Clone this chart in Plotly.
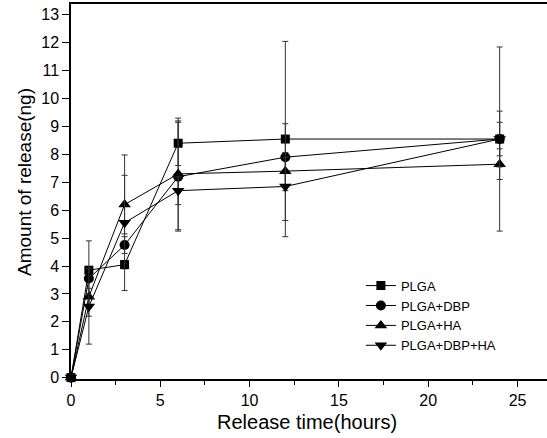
import plotly.graph_objects as go

# Release time points (hours)
time_h = [0, 1, 3, 6, 12, 24]

# Mean release amount (ng) per formulation
plga = [0, 3.85, 4.05, 8.4, 8.55, 8.55]
plga_dbp = [0, 3.55, 4.75, 7.2, 7.9, 8.55]
plga_ha = [0, 2.9, 6.2, 7.3, 7.4, 7.65]
plga_dbp_ha = [0, 2.55, 5.55, 6.7, 6.85, 8.55]

# Error bar half-widths (ng)
plga_err = [0, 0.1, 0.15, 0.8, 3.5, 3.3]
plga_dbp_err = [0, 1.35, 0.3, 1.95, 1.2, 0.6]
plga_ha_err = [0, 0.3, 1.05, 2.0, 0.5, 0.55]
plga_dbp_ha_err = [0, 1.35, 2.43, 0.5, 1.22, 1.0]

names = ["PLGA", "PLGA+DBP", "PLGA+HA", "PLGA+DBP+HA"]
series = [plga, plga_dbp, plga_ha, plga_dbp_ha]
errors = [plga_err, plga_dbp_err, plga_ha_err, plga_dbp_ha_err]
symbols = ["square", "circle", "triangle-up", "triangle-down"]
sizes = [9, 10, 11, 11]

fig = go.Figure()
for name, y, err, sym, sz in zip(names, series, errors, symbols, sizes):
    fig.add_trace(go.Scatter(
        x=time_h, y=y, name=name, mode="lines+markers",
        line=dict(color="black", width=1),
        marker=dict(symbol=sym, size=sz, color="black"),
        error_y=dict(type="data", array=err, visible=True,
                     color="#333333", thickness=1, width=3),
        cliponaxis=False,
    ))

# plot area in pixels
left, top, bottom = 71, 4, 59
plot_w = 547 - left
plot_h = 438 - top - bottom

fig.update_layout(
    width=547, height=438,
    margin=dict(l=left, r=0, t=top, b=bottom, autoexpand=False),
    plot_bgcolor="white", paper_bgcolor="white",
    font=dict(family="Liberation Sans, Arial", color="black", size=16),
    legend=dict(x=0.609, y=0.289, xanchor="left", yanchor="top",
                font=dict(size=13), bgcolor="rgba(0,0,0,0)",
                tracegroupgap=0),
    annotations=[
        dict(text="Release time(hours)", xref="paper", yref="paper",
             x=(307 - left) / plot_w, y=(379 - 422) / plot_h,
             xanchor="center", yanchor="middle",
             showarrow=False, font=dict(size=20)),
        dict(text="Amount of release(ng)", xref="paper", yref="paper",
             x=(24 - left) / plot_w, y=(379 - 182) / plot_h,
             xanchor="center", yanchor="middle", textangle=-90,
             showarrow=False, font=dict(size=19)),
    ],
)

fig.update_xaxes(
    range=[0, 26.65], dtick=5, tick0=0,
    showline=True, linecolor="black", linewidth=1.5, mirror=True,
    ticks="outside", ticklen=6, tickwidth=1, tickcolor="black",
    minor=dict(ticks="outside", dtick=2.5, ticklen=4, tickcolor="black"),
    showgrid=False, zeroline=False,
)
fig.update_yaxes(
    range=[-0.05, 13.39], dtick=1, tick0=0,
    showline=True, linecolor="black", linewidth=1.5, mirror=True,
    ticks="outside", ticklen=7, tickwidth=1, tickcolor="black",
    showgrid=False, zeroline=False,
)

# remove the default page margin so the figure sits at the window corner
fig.write_html("out.html", config={"displayModeBar": False},
               post_script="document.body.style.margin='0';")
